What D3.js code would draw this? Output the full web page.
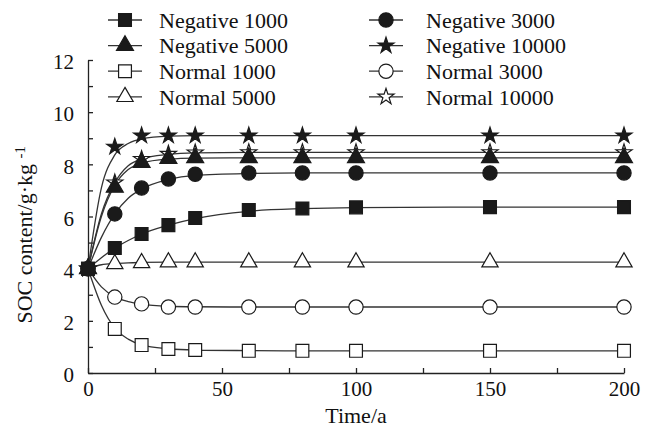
<!DOCTYPE html>
<html>
<head>
<meta charset="utf-8">
<script src="https://cdn.jsdelivr.net/npm/d3@7"></script>
<style>
  html, body { margin: 0; padding: 0; background: #fff; }
  svg { display: block; }
  svg text { font-family: "Liberation Serif", "DejaVu Serif", "Times New Roman", serif; }
</style>
</head>
<body>
<svg id="chart" width="655" height="436"></svg>
<script>
/* ================================
   DATA
================================ */

// sampling years of the markers
const years = [0, 10, 20, 30, 40, 60, 80, 100, 150, 200];

// marker values, g/kg
const neg1000  = [4, 4.79, 5.33, 5.67, 5.94, 6.25, 6.31, 6.35, 6.36, 6.36];
const neg3000  = [4, 6.10, 7.09, 7.44, 7.62, 7.67, 7.67, 7.67, 7.67, 7.67];
const neg5000  = [4, 7.12, 8.07, 8.22, 8.25, 8.25, 8.25, 8.25, 8.25, 8.25];
const neg10000 = [4, 8.67, 9.10, 9.10, 9.10, 9.10, 9.10, 9.10, 9.10, 9.10];
const nor1000  = [4, 1.69, 1.07, 0.92, 0.88, 0.85, 0.85, 0.85, 0.85, 0.85];
const nor3000  = [4, 2.91, 2.65, 2.53, 2.53, 2.53, 2.53, 2.53, 2.53, 2.53];
const nor5000  = [4, 4.18, 4.22, 4.25, 4.25, 4.25, 4.25, 4.25, 4.25, 4.25];
const nor10000 = [4, 7.30, 8.20, 8.40, 8.45, 8.46, 8.46, 8.46, 8.46, 8.46];

// fitted curves, read at these years
const fitYears = [0, 5, 10, 15, 20, 30, 40, 60, 80, 100, 150, 200];
const fitNeg1000  = [4, 4.42, 4.79, 5.08, 5.33, 5.67, 5.92, 6.20, 6.30, 6.34, 6.36, 6.36];
const fitNeg3000  = [4, 5.20, 6.10, 6.70, 7.05, 7.42, 7.58, 7.65, 7.67, 7.67, 7.67, 7.67];
const fitNeg5000  = [4, 6.00, 7.20, 7.80, 8.05, 8.20, 8.24, 8.25, 8.25, 8.25, 8.25, 8.25];
const fitNeg10000 = [4, 7.10, 8.36, 8.80, 8.98, 9.08, 9.10, 9.10, 9.10, 9.10, 9.10, 9.10];
const fitNor1000  = [4, 2.60, 1.72, 1.30, 1.08, 0.93, 0.88, 0.86, 0.85, 0.85, 0.85, 0.85];
const fitNor3000  = [4, 3.30, 2.92, 2.74, 2.64, 2.56, 2.54, 2.53, 2.53, 2.53, 2.53, 2.53];
const fitNor5000  = [4, 4.15, 4.20, 4.22, 4.24, 4.25, 4.25, 4.25, 4.25, 4.25, 4.25, 4.25];
const fitNor10000 = [4, 6.10, 7.30, 7.95, 8.20, 8.38, 8.44, 8.46, 8.46, 8.46, 8.46, 8.46];

const xTicks = [0, 25, 50, 75, 100, 125, 150, 175, 200];
const xLabels = [0, 50, 100, 150, 200];
const yTicks = [0, 1, 2, 3, 4, 5, 6, 7, 8, 9, 10, 11, 12];
const yLabels = [0, 2, 4, 6, 8, 10, 12];

// drawing order: later ones on top
const series = [
  { name: "Normal 10000",   values: nor10000, fit: fitNor10000, symbol: d3.symbolStar,     size: 80,  filled: false },
  { name: "Normal 1000",    values: nor1000,  fit: fitNor1000,  symbol: d3.symbolSquare,   size: 165, filled: false },
  { name: "Normal 3000",    values: nor3000,  fit: fitNor3000,  symbol: d3.symbolCircle,   size: 160, filled: false },
  { name: "Normal 5000",    values: nor5000,  fit: fitNor5000,  symbol: d3.symbolTriangle, size: 115, filled: false },
  { name: "Negative 10000", values: neg10000, fit: fitNeg10000, symbol: d3.symbolStar,     size: 80,  filled: true },
  { name: "Negative 5000",  values: neg5000,  fit: fitNeg5000,  symbol: d3.symbolTriangle, size: 125, filled: true },
  { name: "Negative 3000",  values: neg3000,  fit: fitNeg3000,  symbol: d3.symbolCircle,   size: 160, filled: true },
  { name: "Negative 1000",  values: neg1000,  fit: fitNeg1000,  symbol: d3.symbolSquare,   size: 165, filled: true },
];

// legend layout: two columns, four rows
const legendCol1 = ["Negative 1000", "Negative 5000", "Normal 1000", "Normal 5000"];
const legendCol2 = ["Negative 3000", "Negative 10000", "Normal 3000", "Normal 10000"];

/* ================================
   CHART
================================ */

const svg = d3.select("#chart");
const SERIF = "\"Liberation Serif\", \"DejaVu Serif\", \"Times New Roman\", serif";

const x = d3.scaleLinear().domain([0, 200]).range([88, 624]);
const y = d3.scaleLinear().domain([0, 12]).range([373, 60]);

// axes
const xAxis = d3.axisBottom(x)
  .tickValues(xTicks)
  .tickSizeInner(-5)
  .tickSizeOuter(0)
  .tickPadding(8)
  .tickFormat(d => xLabels.includes(d) ? d : "");

const yAxis = d3.axisLeft(y)
  .tickValues(yTicks)
  .tickSizeInner(-5)
  .tickSizeOuter(0)
  .tickPadding(14)
  .tickFormat(d => yLabels.includes(d) ? d : "");

function styleAxis(g) {
  g.attr("font-family", SERIF).attr("font-size", 21);
  g.selectAll("path, line").attr("stroke", "#222").attr("stroke-width", 1.3);
  g.selectAll("text").attr("fill", "#111");
}

svg.append("g")
  .attr("transform", `translate(0,${y(0)})`)
  .call(xAxis)
  .call(styleAxis);

svg.append("g")
  .attr("transform", `translate(${x(0)},0)`)
  .call(yAxis)
  .call(styleAxis)
  .selectAll("text").attr("dy", "0.42em");

// fitted lines
const line = d3.line()
  .x((d, i) => x(fitYears[i]))
  .y(d => y(d))
  .curve(d3.curveMonotoneX);

svg.append("g")
  .selectAll("path")
  .data(series)
  .join("path")
  .attr("d", d => line(d.fit))
  .attr("fill", "none")
  .attr("stroke", "#333")
  .attr("stroke-width", 1.3);

// markers
series.forEach(s => {
  const sym = d3.symbol().type(s.symbol).size(s.size);
  svg.append("g")
    .selectAll("path")
    .data(s.values)
    .join("path")
    .attr("transform", (d, i) => `translate(${x(years[i])},${y(d)})`)
    .attr("d", sym)
    .attr("fill", s.filled ? "#1a1a1a" : "#fff")
    .attr("stroke", "#1a1a1a")
    .attr("stroke-width", 1.2);
});

// legend
function drawLegend(names, lx0, lx1, mx, tx) {
  names.forEach((name, i) => {
    const s = series.find(d => d.name === name);
    const ly = 20 + i * 25.6;
    const g = svg.append("g");
    g.append("line")
      .attr("x1", lx0).attr("x2", lx1)
      .attr("y1", ly).attr("y2", ly)
      .attr("stroke", "#333")
      .attr("stroke-width", 1.3);
    g.append("path")
      .attr("transform", `translate(${mx},${ly})`)
      .attr("d", d3.symbol().type(s.symbol).size(s.size)())
      .attr("fill", s.filled ? "#1a1a1a" : "#fff")
      .attr("stroke", "#1a1a1a")
      .attr("stroke-width", 1.2);
    g.append("text")
      .attr("x", tx)
      .attr("y", ly)
      .attr("dy", "0.35em")
      .attr("font-family", SERIF)
      .attr("font-size", 22)
      .attr("fill", "#111")
      .text(name);
  });
}

drawLegend(legendCol1, 108, 142, 125, 159);
drawLegend(legendCol2, 369, 403, 386, 426);

// axis titles
svg.append("text")
  .attr("x", x(100))
  .attr("y", 423)
  .attr("text-anchor", "middle")
  .attr("font-family", SERIF)
  .attr("font-size", 22)
  .attr("fill", "#111")
  .text("Time/a");

const yTitle = svg.append("text")
  .attr("transform", `translate(32,${y(5.3)}) rotate(-90)`)
  .attr("text-anchor", "middle")
  .attr("font-family", SERIF)
  .attr("font-size", 22)
  .attr("fill", "#111");

yTitle.append("tspan").text("SOC content/g\u00B7kg ");
yTitle.append("tspan")
  .attr("dy", "-0.45em")
  .attr("font-size", 15)
  .text("-1");
</script>
</body>
</html>
